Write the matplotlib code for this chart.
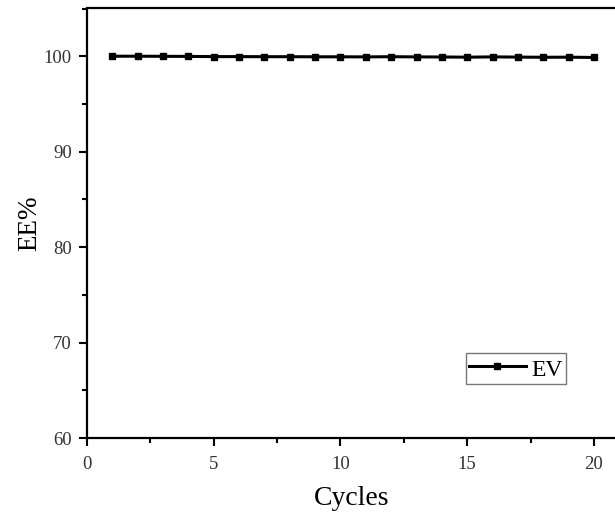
import matplotlib
matplotlib.use("Agg")
import matplotlib.pyplot as plt
from matplotlib.ticker import MultipleLocator

cycles = list(range(1, 21))
ee = [100.0, 100.0, 99.99, 99.98, 99.96, 99.96, 99.95, 99.95, 99.94, 99.94,
      99.93, 99.95, 99.93, 99.92, 99.90, 99.93, 99.91, 99.89, 99.90, 99.87]
series_label = "EV"
xlabel = "Cycles"
ylabel = "EE%"

plt.rcParams['font.family'] = ['Liberation Serif', 'DejaVu Serif']

W, H = 615, 514
fig = plt.figure(figsize=(W / 100, H / 100), dpi=100)
left, top, bottom = 87, 8.5, 438
xmax = 21.5
right = left + xmax * 25.35
ax = fig.add_axes([left / W, 1 - bottom / H, (right - left) / W, (bottom - top) / H])

ax.plot(cycles, ee, color='black', linewidth=2.2, marker='s', markersize=5,
        label=series_label)

ax.set_xlim(0, xmax)
ax.set_ylim(60, 105)
ax.xaxis.set_major_locator(MultipleLocator(5))
ax.xaxis.set_minor_locator(MultipleLocator(2.5))
ax.yaxis.set_major_locator(MultipleLocator(10))
ax.yaxis.set_minor_locator(MultipleLocator(5))
ax.tick_params(which='major', direction='out', length=6, width=1.5,
               labelsize=13.5, colors='black', labelcolor='#333333')
ax.tick_params(axis='x', which='major', pad=7)
ax.tick_params(axis='y', which='major', pad=5)
ax.tick_params(which='minor', direction='out', length=3.5, width=1.5)
for s in ax.spines.values():
    s.set_linewidth(1.6)

ax.set_xlabel(xlabel, fontsize=20, labelpad=9, x=(351.5 - left) / (right - left))
ax.set_ylabel(ylabel, fontsize=19.5, labelpad=1)

leg = ax.legend(loc='lower right', fontsize=17, frameon=True, fancybox=False,
                edgecolor='#555555', handlelength=2.4, handletextpad=0.25,
                borderpad=0.12, borderaxespad=0, handleheight=1.25)
leg.get_frame().set_linewidth(1.0)
leg.set_bbox_to_anchor(((565.7 - left) / (right - left), (bottom - 384) / (bottom - top)),
                       transform=ax.transAxes)

fig.savefig("out.png", dpi=100)
